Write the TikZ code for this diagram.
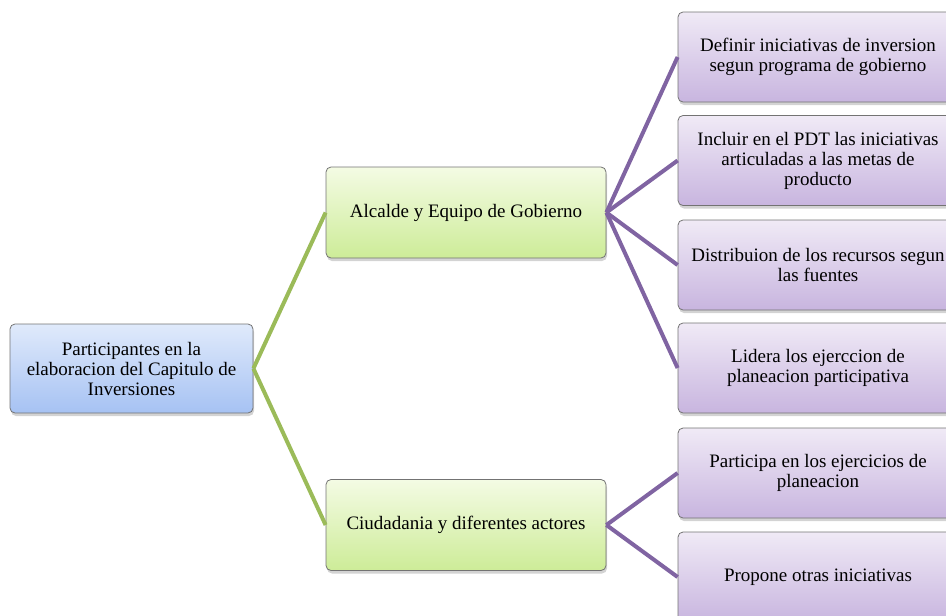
\documentclass[tikz,border=0pt]{standalone}
\usepackage{fontspec}
\setmainfont{Liberation Serif}
\usetikzlibrary{shadows}
\definecolor{rootTop}{HTML}{E0EAFB}
\definecolor{rootBot}{HTML}{A6C2F3}
\definecolor{midTop}{HTML}{F4FBE4}
\definecolor{midBot}{HTML}{CDEC98}
\definecolor{leafTop}{HTML}{F0EAF6}
\definecolor{leafBot}{HTML}{C8B5DF}
\definecolor{greenLink}{HTML}{9BBB59}
\definecolor{purpleLink}{HTML}{8064A2}

\begin{document}
\begin{tikzpicture}[x=1pt, y=-1pt,
  box/.style={draw=black!55, rounded corners=5pt, line width=0.8pt, align=center,
    font=\fontsize{19}{20}\selectfont, inner sep=2pt,
    drop shadow={opacity=0.35, shadow xshift=1pt, shadow yshift=-3pt}},
  rootbox/.style={box, top color=rootTop, bottom color=rootBot, minimum width=243pt, minimum height=89pt},
  midbox/.style={box, top color=midTop, bottom color=midBot, minimum width=280pt, minimum height=91pt},
  leafbox/.style={box, top color=leafTop, bottom color=leafBot, minimum width=280pt, minimum height=90pt},
  greenlink/.style={draw=greenLink, line width=4pt},
  purplelink/.style={draw=purpleLink, line width=4pt}]
  \useasboundingbox (0,0) rectangle (946,616);
  % root and middle level
  \node[rootbox] (part) at (131.5,368.5) {Participantes en la\\elaboracion del Capitulo de\\Inversiones};
  \node[midbox] (alc) at (466,212.5) {Alcalde y Equipo de Gobierno};
  \node[midbox] (ciu) at (466,525) {Ciudadania y diferentes actores};
  % leaves
  \node[leafbox] (def) at (818,57) {Definir iniciativas de inversion\\segun programa de gobierno};
  \node[leafbox] (inc) at (818,160.5) {Incluir en el PDT las iniciativas\\articuladas a las metas de\\producto};
  \node[leafbox] (dis) at (818,265) {Distribuion de los recursos segun\\las fuentes};
  \node[leafbox] (lid) at (818,368) {Lidera los ejerccion de\\planeacion participativa};
  \node[leafbox] (pcp) at (818,473) {Participa en los ejercicios de\\planeacion};
  \node[leafbox] (pro) at (818,577) {Propone otras iniciativas};
  % links
  \draw[greenlink] (part.east) -- (alc.west);
  \draw[greenlink] (part.east) -- (ciu.west);
  \foreach \leaf in {def,inc,dis,lid}
    \draw[purplelink] (alc.east) -- (\leaf.west);
  \foreach \leaf in {pcp,pro}
    \draw[purplelink] (ciu.east) -- (\leaf.west);
\end{tikzpicture}
\end{document}
